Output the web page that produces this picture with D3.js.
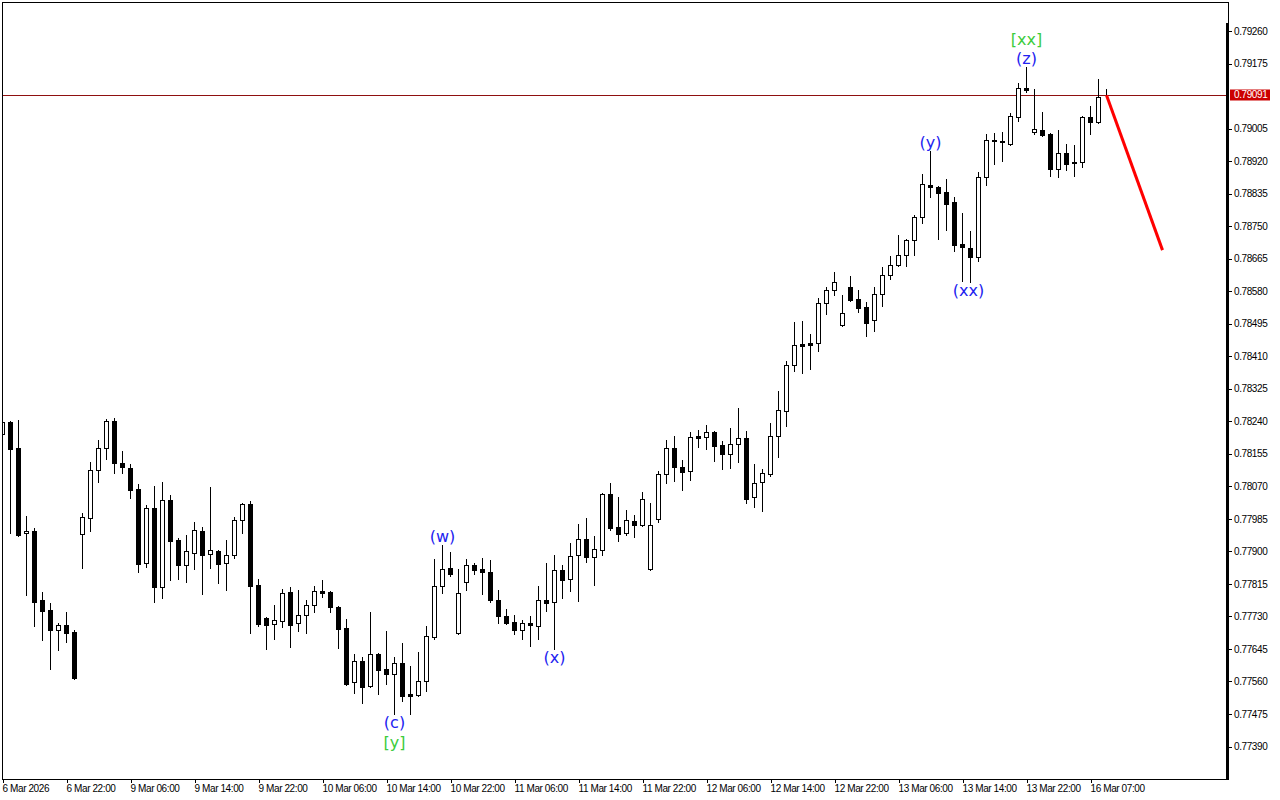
<!DOCTYPE html>
<html><head><meta charset="utf-8">
<script src="https://cdn.jsdelivr.net/npm/d3@7"></script>
<style>html,body{margin:0;padding:0;background:#fff;overflow:hidden}svg{display:block}</style>
</head><body>
<svg id="c" width="1280" height="800"></svg>
<script>
// ---- DATA (H1 candles, index 0 = first visible bar) ----
const openP = [0.78205,0.78237,0.78169,0.77947,0.77952,0.77771,0.77745,0.77693,0.77706,0.77688,
0.77944,0.77986,0.78111,0.78169,0.78239,0.78130,0.78117,0.78062,0.77868,0.78012,
0.77806,0.78033,0.77928,0.77863,0.77894,0.77952,0.77892,0.77900,0.77868,0.77889,
0.77981,0.78022,0.77811,0.77724,0.77709,0.77717,0.77792,0.77711,0.77732,0.77758,
0.77795,0.77792,0.77753,0.77698,0.77557,0.77612,0.77547,0.77630,0.77591,0.77578,
0.77607,0.77526,0.77523,0.77560,0.77675,0.77808,0.77855,0.77685,0.77819,0.77863,
0.77853,0.77845,0.77771,0.77730,0.77714,0.77693,0.77711,0.77704,0.77771,0.77766,
0.77850,0.77826,0.77889,0.77931,0.77884,0.77902,0.78049,0.77962,0.77947,0.77978,
0.77968,0.77853,0.77983,0.78101,0.78169,0.78119,0.78109,0.78200,0.78198,0.78211,
0.78177,0.78153,0.78179,0.78195,0.78041,0.78080,0.78101,0.78200,0.78265,0.78386,
0.78441,0.78443,0.78443,0.78548,0.78582,0.78490,0.78590,0.78558,0.78537,0.78503,
0.78571,0.78621,0.78647,0.78673,0.78713,0.78773,0.78856,0.78851,0.78838,0.78812,
0.78702,0.78692,0.78668,0.78877,0.78971,0.78969,0.78963,0.79034,0.79110,0.78995,
0.79000,0.78989,0.78898,0.78940,0.78916,0.78916,0.79034,0.79021,0.79091];
const highP = [0.78242,0.78239,0.78242,0.77991,0.77960,0.77792,0.77764,0.77711,0.77740,0.77693,
0.77999,0.78132,0.78190,0.78245,0.78247,0.78161,0.78127,0.78075,0.78020,0.78069,
0.78080,0.78046,0.77934,0.77941,0.77975,0.77962,0.78067,0.77902,0.77928,0.77988,
0.78025,0.78030,0.77826,0.77727,0.77758,0.77800,0.77806,0.77798,0.77771,0.77808,
0.77824,0.77795,0.77756,0.77722,0.77630,0.77623,0.77740,0.77633,0.77690,0.77623,
0.77659,0.77599,0.77636,0.77704,0.77879,0.77915,0.77897,0.77853,0.77879,0.77868,
0.77881,0.77876,0.77798,0.77748,0.77732,0.77719,0.77730,0.77808,0.77868,0.77889,
0.77863,0.77921,0.77970,0.77986,0.77939,0.78051,0.78077,0.78041,0.78007,0.77994,
0.78054,0.78025,0.78109,0.78190,0.78200,0.78137,0.78211,0.78216,0.78229,0.78213,
0.78187,0.78221,0.78273,0.78213,0.78127,0.78114,0.78234,0.78318,0.78396,0.78498,
0.78501,0.78467,0.78561,0.78590,0.78629,0.78569,0.78618,0.78582,0.78550,0.78590,
0.78642,0.78671,0.78726,0.78715,0.78778,0.78885,0.78945,0.78854,0.78872,0.78825,
0.78783,0.78736,0.78890,0.78989,0.78992,0.78995,0.79044,0.79123,0.79165,0.79107,
0.79047,0.78992,0.79000,0.78963,0.78961,0.79037,0.79063,0.79133,0.79107];
const lowP = [0.78200,0.77947,0.77939,0.77785,0.77704,0.77667,0.77591,0.77641,0.77662,0.77565,
0.77855,0.77952,0.78080,0.78140,0.78103,0.78103,0.78038,0.77845,0.77858,0.77766,
0.77777,0.77824,0.77826,0.77819,0.77853,0.77787,0.77855,0.77816,0.77798,0.77881,
0.77947,0.77685,0.77704,0.77643,0.77670,0.77701,0.77649,0.77690,0.77685,0.77740,
0.77779,0.77740,0.77646,0.77549,0.77528,0.77502,0.77544,0.77526,0.77552,0.77474,
0.77508,0.77474,0.77521,0.77534,0.77670,0.77790,0.77834,0.77683,0.77798,0.77840,
0.77787,0.77766,0.77711,0.77709,0.77683,0.77670,0.77651,0.77670,0.77743,0.77643,
0.77777,0.77795,0.77769,0.77871,0.77811,0.77889,0.77954,0.77926,0.77941,0.77936,
0.77965,0.77850,0.77975,0.78077,0.78083,0.78059,0.78085,0.78171,0.78166,0.78135,
0.78114,0.78117,0.78132,0.78025,0.78015,0.78004,0.78096,0.78145,0.78226,0.78370,
0.78365,0.78375,0.78422,0.78519,0.78569,0.78488,0.78553,0.78524,0.78462,0.78475,
0.78540,0.78611,0.78645,0.78645,0.78673,0.78757,0.78825,0.78715,0.78739,0.78684,
0.78605,0.78603,0.78658,0.78856,0.78911,0.78919,0.78961,0.79023,0.79099,0.78989,
0.78984,0.78880,0.78877,0.78895,0.78880,0.78903,0.78989,0.79018,0.79091];
const closeP = [0.78237,0.78166,0.77941,0.77952,0.77766,0.77743,0.77693,0.77706,0.77685,0.77568,
0.77988,0.78111,0.78169,0.78239,0.78130,0.78119,0.78059,0.77866,0.78012,0.77806,
0.78033,0.77926,0.77863,0.77900,0.77954,0.77889,0.77902,0.77866,0.77889,0.77981,
0.78022,0.77808,0.77709,0.77706,0.77719,0.77790,0.77706,0.77732,0.77758,0.77795,
0.77790,0.77753,0.77696,0.77552,0.77612,0.77544,0.77630,0.77589,0.77578,0.77607,
0.77521,0.77521,0.77560,0.77677,0.77808,0.77853,0.77840,0.77790,0.77863,0.77850,
0.77845,0.77771,0.77730,0.77711,0.77693,0.77711,0.77706,0.77771,0.77764,0.77850,
0.77824,0.77887,0.77931,0.77884,0.77905,0.78049,0.77960,0.77944,0.77981,0.77968,
0.78035,0.77968,0.78101,0.78169,0.78119,0.78106,0.78198,0.78195,0.78211,0.78174,
0.78153,0.78179,0.78195,0.78036,0.78077,0.78103,0.78200,0.78268,0.78386,0.78438,
0.78435,0.78438,0.78548,0.78582,0.78603,0.78522,0.78556,0.78535,0.78496,0.78571,
0.78621,0.78647,0.78673,0.78713,0.78773,0.78859,0.78851,0.78835,0.78807,0.78699,
0.78694,0.78668,0.78877,0.78974,0.78974,0.78971,0.79037,0.79110,0.79104,0.79003,
0.78987,0.78898,0.78940,0.78911,0.78914,0.79034,0.79021,0.79086,0.79091];

const timeLabelIdx = [0,8,16,24,32,40,48,56,64,72,80,88,96,104,112,120,128,136];
const timeLabels = ["6 Mar 2026","6 Mar 22:00","9 Mar 06:00","9 Mar 14:00","9 Mar 22:00",
"10 Mar 06:00","10 Mar 14:00","10 Mar 22:00","11 Mar 06:00","11 Mar 14:00","11 Mar 22:00",
"12 Mar 06:00","12 Mar 14:00","12 Mar 22:00","13 Mar 06:00","13 Mar 14:00","13 Mar 22:00","16 Mar 07:00"];
const priceTicks = [0.79260,0.79175,0.79005,0.78920,0.78835,0.78750,0.78665,0.78580,0.78495,
0.78410,0.78325,0.78240,0.78155,0.78070,0.77985,0.77900,0.77815,0.77730,0.77645,0.77560,0.77475,0.77390];
const currentPrice = 0.79091;

const waveText  = ["[xx]","(z)","(y)","(xx)","(w)","(x)","(c)","[y]"];
const waveIdx   = [128,128,116,120.75,55,69,49,49];
const wavePrice = [0.79235,0.79186,0.78966,0.78579,0.77936,0.77620,0.77450,0.77398];
const waveKind  = ["green","blue","blue","blue","blue","blue","blue","green"];

const forecastIdx = [138,145];
const forecastPrice = [0.79091,0.78686];

// ---- LAYOUT ----
const L = 2, R = 1228, T = 2, B = 779;
const svg = d3.select("#c");
const x = d3.scaleLinear().domain([0, 150]).range([2, 2 + 8*150]);
const y = d3.scaleLinear().domain([0.79260, 0.77390]).range([30.5, 746]);

const bars = openP.map((o,i)=>({i,o,h:highP[i],l:lowP[i],c:closeP[i]}));

svg.append("defs").append("clipPath").attr("id","plot")
  .append("rect").attr("x",L).attr("y",T).attr("width",R-L).attr("height",B-T);

const plot = svg.append("g").attr("clip-path","url(#plot)");

// current price line
const cy = Math.round(y(currentPrice)) + 0.5;
plot.append("line").attr("x1",L).attr("x2",R).attr("y1",cy).attr("y2",cy)
  .attr("stroke","#8f1010").attr("stroke-width",1).attr("shape-rendering","crispEdges");

const cg = plot.append("g").attr("shape-rendering","crispEdges");
// wicks
cg.selectAll("line.w").data(bars).join("line").attr("class","w")
  .attr("x1",d=>Math.round(x(d.i))+0.5).attr("x2",d=>Math.round(x(d.i))+0.5)
  .attr("y1",d=>Math.round(y(d.h))).attr("y2",d=>Math.round(y(d.l))+1)
  .attr("stroke","#000").attr("stroke-width",1);
// bodies
cg.selectAll("rect.b").data(bars).join("rect").attr("class","b")
  .attr("x",d=>Math.round(x(d.i))-1.5)
  .attr("y",d=>Math.round(y(Math.max(d.o,d.c)))+0.5)
  .attr("width",4)
  .attr("height",d=>Math.max(0, Math.round(y(Math.min(d.o,d.c))) - Math.round(y(Math.max(d.o,d.c)))))
  .attr("fill",d=>d.c>=d.o?"#fff":"#000")
  .attr("stroke","#000").attr("stroke-width",1);

// forecast line
plot.append("line")
  .attr("x1",x(forecastIdx[0])+0.5).attr("y1",y(forecastPrice[0]))
  .attr("x2",x(forecastIdx[1])+0.5).attr("y2",y(forecastPrice[1]))
  .attr("stroke","#ff0000").attr("stroke-width",3);

// wave labels
const wl = waveText.map((t,k)=>({t,i:waveIdx[k],p:wavePrice[k],kind:waveKind[k]}));
plot.selectAll("text.wave").data(wl).join("text").attr("class","wave")
  .attr("x",d=>x(d.i)+0.5).attr("y",d=>y(d.p)).attr("dy","0.3em")
  .attr("text-anchor","middle")
  .attr("font-family","DejaVu Sans, sans-serif").attr("font-size",16)
  .attr("fill",d=>d.kind==="green"?"#3ccc3c":"#2222f0")
  .text(d=>d.t);

// frame
const fg = svg.append("g").attr("shape-rendering","crispEdges");
fg.append("line").attr("x1",L).attr("x2",R+1).attr("y1",T+0.5).attr("y2",T+0.5).attr("stroke","#000");
fg.append("line").attr("x1",L+0.5).attr("x2",L+0.5).attr("y1",T).attr("y2",B+1).attr("stroke","#000");
fg.append("line").attr("x1",R+0.5).attr("x2",R+0.5).attr("y1",T).attr("y2",B+1).attr("stroke","#000");
fg.append("rect").attr("x",R-2).attr("y",23).attr("width",3).attr("height",B-23+1).attr("fill","#000");

// axes
const fontFam = "Liberation Sans, Arial, sans-serif";
const xAxis = d3.axisBottom(x).tickValues(timeLabelIdx)
  .tickFormat((d,k)=>timeLabels[k]).tickSize(4).tickPadding(2).tickSizeOuter(0);
const gx = svg.append("g").attr("transform",`translate(0.5,${B})`).call(xAxis);
gx.select(".domain").attr("d",`M${L-0.5},0.5H${R+0.5}`).attr("stroke","#000").attr("shape-rendering","crispEdges");
gx.selectAll(".tick line").attr("stroke","#000").attr("shape-rendering","crispEdges");
gx.selectAll(".tick text").attr("text-anchor","start").attr("x",-0.5)
  .attr("font-family",fontFam).attr("font-size",10).attr("letter-spacing","-0.4px").attr("fill","#000");

const yAxis = d3.axisRight(y).tickValues(priceTicks).tickFormat(d3.format(".5f"))
  .tickSize(3).tickPadding(2).tickSizeOuter(0);
const gy = svg.append("g").attr("transform",`translate(${R+1},0.5)`).call(yAxis);
gy.select(".domain").remove();
gy.selectAll(".tick line").attr("stroke","#000").attr("shape-rendering","crispEdges");
gy.selectAll(".tick text").attr("font-family",fontFam).attr("font-size",10)
  .attr("letter-spacing","-0.4px").attr("fill","#000");

// current price label
const pl = svg.append("g").attr("transform",`translate(${R+2},${Math.round(y(currentPrice))})`);
pl.append("rect").attr("x",0).attr("y",-5.5).attr("width",40).attr("height",11).attr("fill","#cc0000");
pl.append("text").attr("x",4).attr("y",0).attr("dy","0.34em")
  .attr("font-family",fontFam).attr("font-size",10).attr("letter-spacing","-0.4px")
  .attr("fill","#fff").text(d3.format(".5f")(currentPrice));
</script>
</body></html>
